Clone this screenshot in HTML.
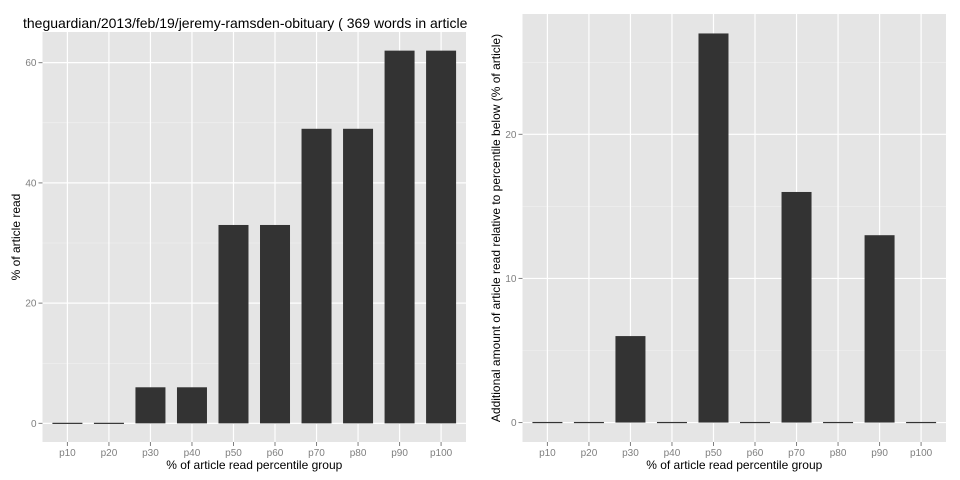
<!DOCTYPE html>
<html><head><meta charset="utf-8"><style>
body{margin:0;background:#fff;}
svg{display:block;font-family:"Liberation Sans",Arial,sans-serif;}
</style></head><body>
<svg id="chart" width="960" height="480"></svg>
<script>
const categories = ["p10","p20","p30","p40","p50","p60","p70","p80","p90","p100"];
const leftValues = [0,0,6,6,33,33,49,49,62,62];
const rightValues = [0,0,6,0,27,0,16,0,13,0];
const leftTicks = [0,20,40,60];
const leftMinor = [10,30,50];
const rightTicks = [0,10,20];
const rightMinor = [5,15,25];

const NS="http://www.w3.org/2000/svg";
const svg=document.getElementById('chart');
function mk(tag,attrs,parent){const e=document.createElementNS(NS,tag);for(const k in attrs)e.setAttribute(k,attrs[k]);(parent||svg).appendChild(e);return e;}

function panel(ox, top, yMin, yMax, values, ticks, minor, yTitle, name){
  const x0=ox+42.5, x1=ox+466, y0=442, y1=top;
  const g=mk('g',{});
  
  
  const yS=v=>y0-(v-yMin)/(yMax-yMin)*(y0-y1);
  const n=categories.length;
  const step=(x1-x0)/(n-1+1.2);
  const xS=i=>x0+step*(i+0.6);
  const bg=mk('rect',{x:x0,y:y1,width:x1-x0,height:y0-y1,fill:'#e5e5e5'},g);
  
  
  minor.forEach(v=>{mk('line',{x1:x0,x2:x1,y1:yS(v),y2:yS(v),stroke:'#f2f2f2','stroke-width':0.6},g);});
  ticks.forEach(v=>{
    mk('line',{x1:x0,x2:x1,y1:yS(v),y2:yS(v),stroke:'#fff','stroke-width':1.2},g);
    mk('line',{x1:x0-4,x2:x0,y1:yS(v),y2:yS(v),stroke:'#7f7f7f','stroke-width':1},g);
    const t=mk('text',{x:x0-6,y:yS(v)+3.5,'text-anchor':'end','font-size':'10',fill:'#7f7f7f'},g);
    t.textContent=v;
    
    
  });
  categories.forEach((c,i)=>{
    mk('line',{x1:xS(i),x2:xS(i),y1:y1,y2:y0,stroke:'#fff','stroke-width':1.2},g);
    mk('line',{x1:xS(i),x2:xS(i),y1:y0,y2:y0+4,stroke:'#7f7f7f','stroke-width':1},g);
    const t=mk('text',{x:xS(i),y:y0+14,'text-anchor':'middle','font-size':'10',fill:'#7f7f7f'},g);
    t.textContent=c;
    
    
  });
  values.forEach((v,i)=>{
    const bw=30, ya=yS(Math.max(v,0)), yb=yS(0);
    const r=mk('rect',{x:xS(i)-bw/2,y:ya-(v===0?0.6:0),width:bw,height:Math.max(yb-ya,1.2),fill:'#333'},g);
    
    
  });
  const xt=mk('text',{x:(x0+x1)/2,y:469,'text-anchor':'middle','font-size':'12',fill:'#000'},g);
  xt.textContent='% of article read percentile group';
  
  
  const cy=(y0+y1)/2;
  const yt=mk('text',{x:ox+20,y:cy,'text-anchor':'middle','font-size':'12',fill:'#000',transform:`rotate(-90 ${ox+20} ${cy})`},g);
  yt.textContent=yTitle;
  
  
}
panel(0,32,-3.1,65.1,leftValues,leftTicks,leftMinor,'% of article read','left-panel');
panel(480,14,-1.35,28.35,rightValues,rightTicks,rightMinor,'Additional amount of article read relative to percentile below (% of article)','right-panel');
const title=mk('text',{x:23,y:28,'font-size':'14',fill:'#000'});
title.textContent='theguardian/2013/feb/19/jeremy-ramsden-obituary ( 369 words in article';


</script>
</body></html>
